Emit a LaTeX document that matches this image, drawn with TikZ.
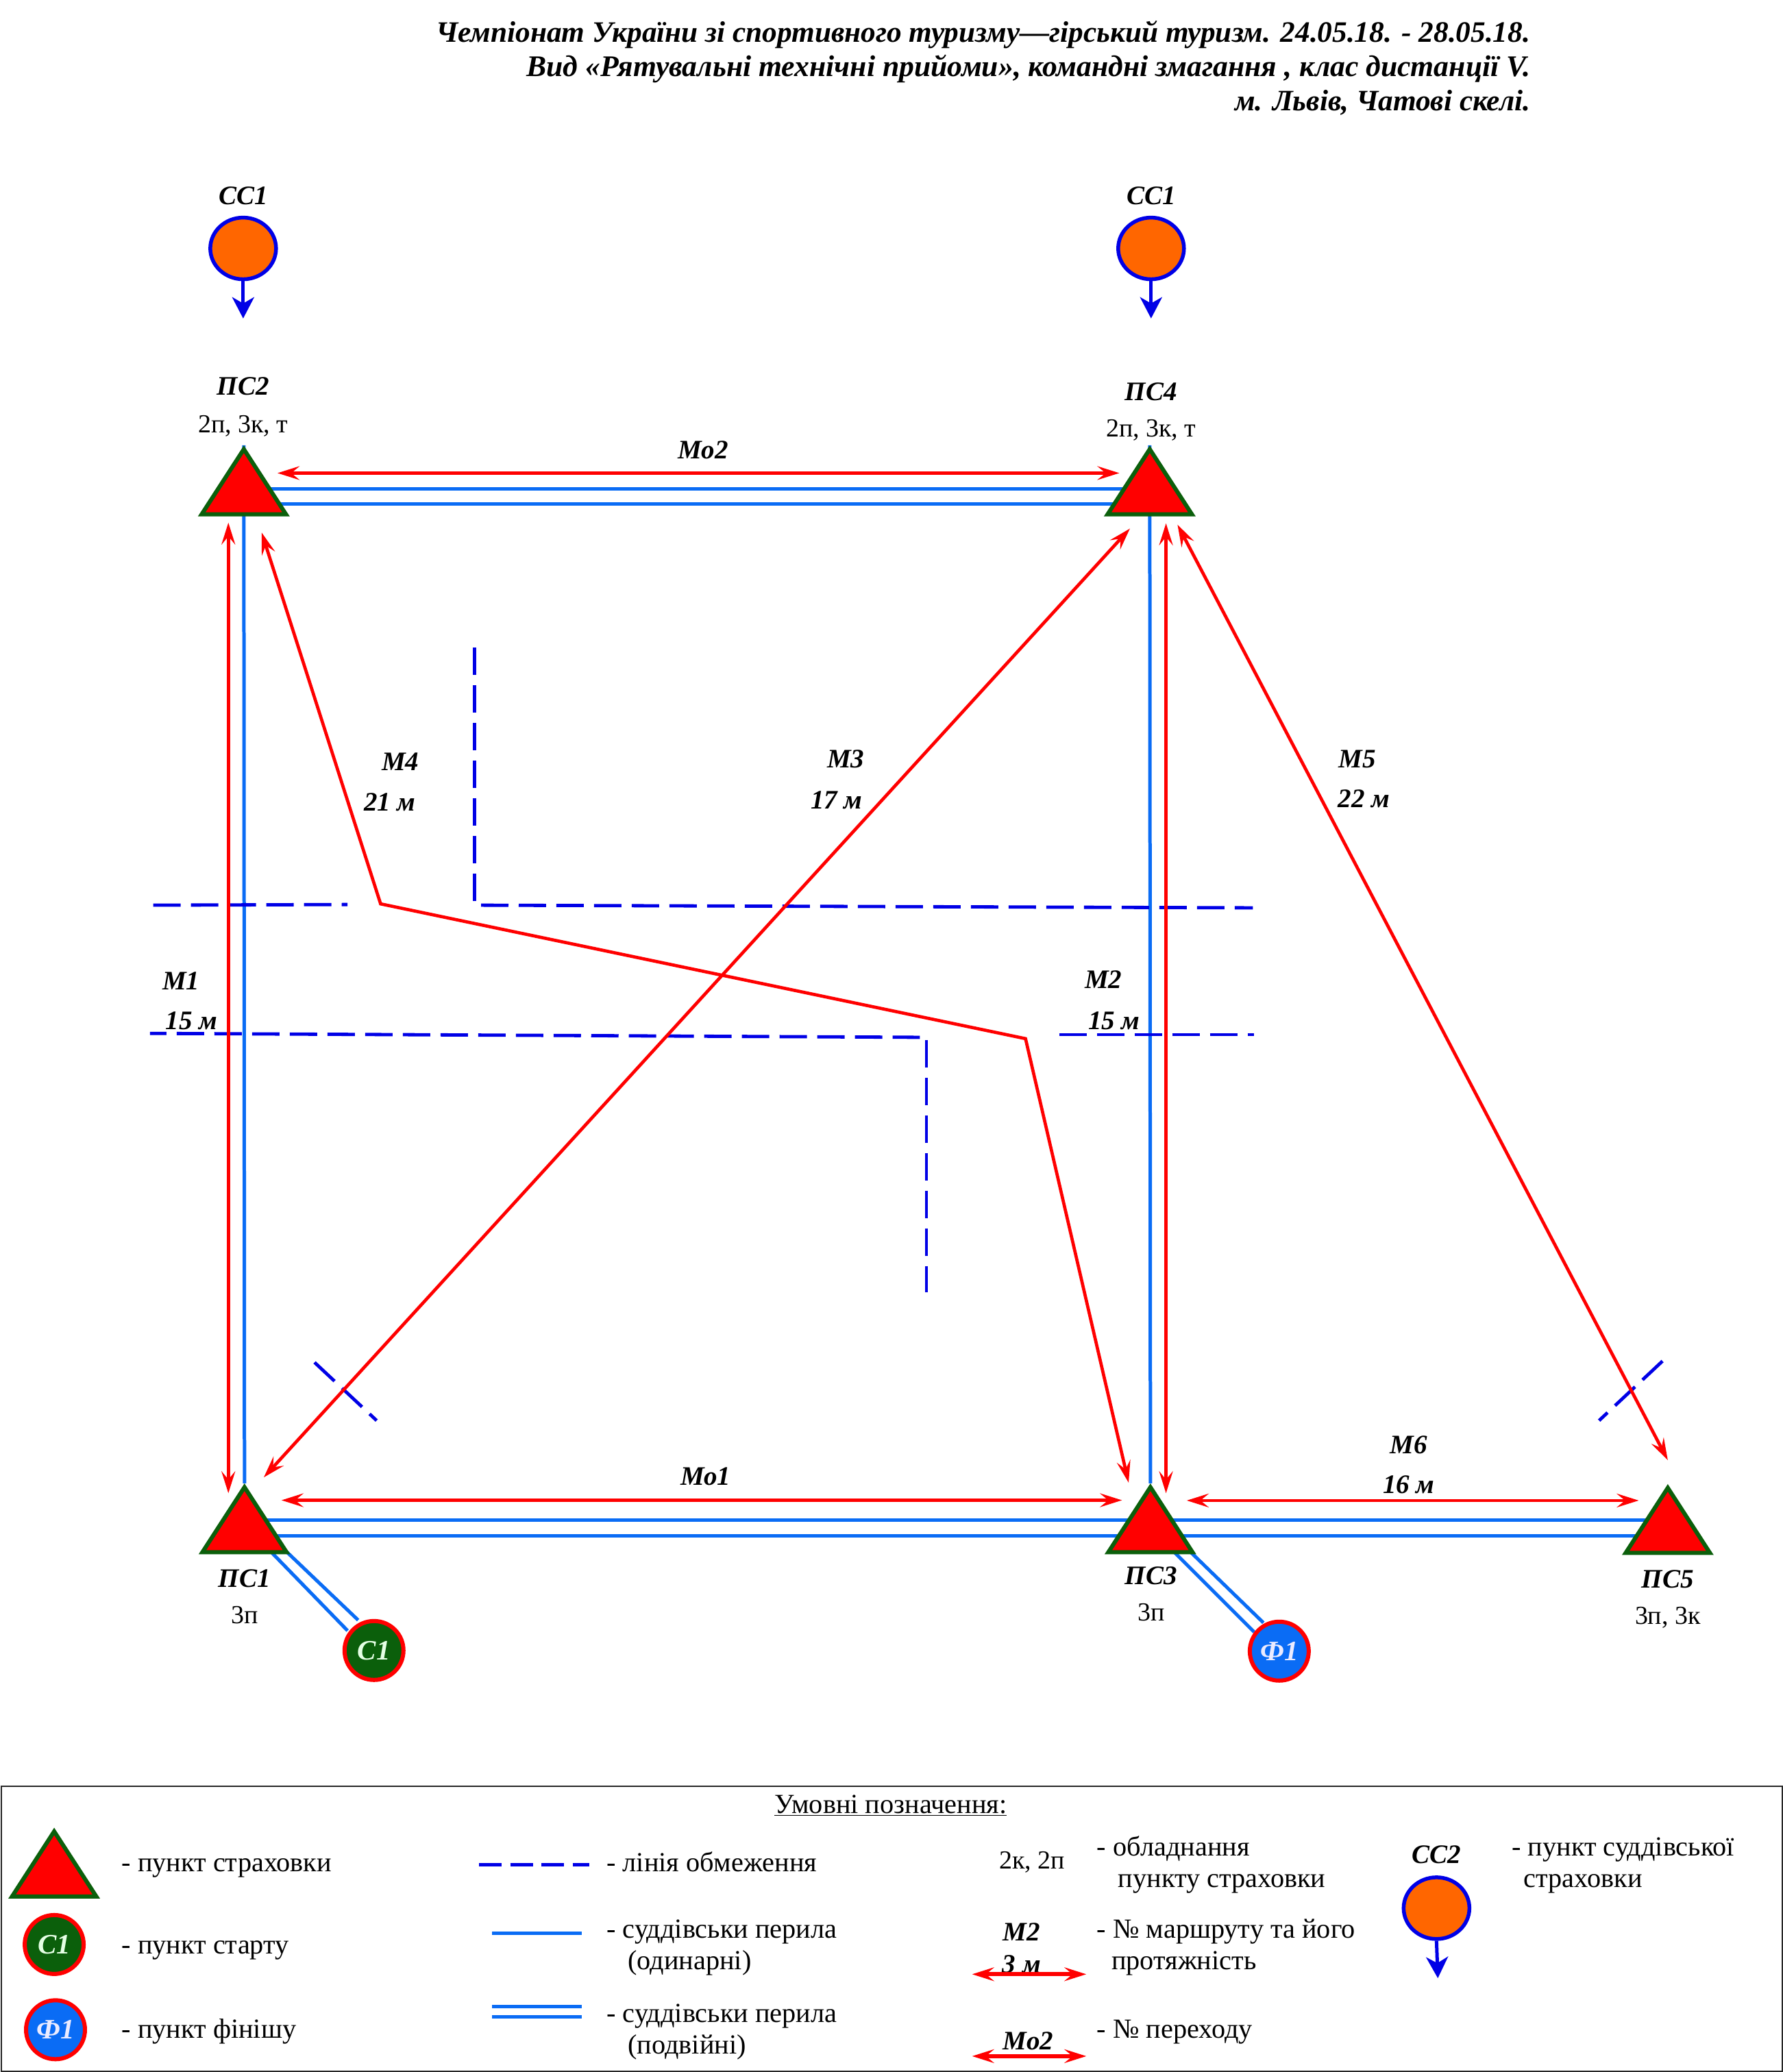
\documentclass[tikz,border=0pt]{standalone}
\usepackage{fontspec}
\setmainfont{Liberation Serif}
\usetikzlibrary{arrows.meta,shapes.geometric,backgrounds}
\definecolor{railblue}{HTML}{0A6CF5}
\definecolor{limitblue}{HTML}{0000E6}
\definecolor{tgreen}{HTML}{0B5F0B}
\definecolor{corange}{HTML}{FF6600}
\definecolor{finblue}{HTML}{0A6CF5}
\newcommand{\fs}{\fontsize{38}{40}\selectfont}
\newcommand{\fl}{\fontsize{40.3}{42}\selectfont}
\newcommand{\bi}{\fontsize{39}{41}\selectfont\bfseries\itshape}
\newcommand{\bc}{\fontsize{41}{43}\selectfont\bfseries\itshape}
\newcommand{\bt}{\fontsize{43.3}{45}\selectfont\bfseries\itshape}
\newcommand{\btw}{\fontsize{43.7}{45}\selectfont\bfseries\itshape}
\tikzset{
  tri/.style={isosceles triangle,isosceles triangle apex angle=64,isosceles triangle stretches,shape border rotate=90,
     minimum width=123pt,minimum height=95pt,draw=tgreen,fill=red,line width=6pt,inner sep=0pt,anchor=apex},
  lab/.style={inner sep=0pt,font=\bi,anchor=mid,yshift=-11pt},
  plain/.style={inner sep=0pt,font=\fs,anchor=mid,yshift=-10pt},
  lft/.style={inner sep=0pt,font=\fl,anchor=mid west,yshift=-10pt},
  ttl/.style={inner sep=0pt,font=\bt,anchor=mid east,yshift=-11pt},
  startpt/.style={circle,draw=red,fill=tgreen,line width=6pt,minimum size=86pt,inner sep=0pt,text=white!90!green,font=\bc},
  finishpt/.style={circle,draw=red,fill=finblue,line width=6pt,minimum size=86pt,inner sep=0pt,text=white!92!blue,font=\bc},
  judgept/.style={ellipse,draw=limitblue,fill=corange,line width=5.5pt,minimum width=96pt,minimum height=90pt,inner sep=0pt},
  rail/.style={draw=railblue,line width=5pt},
  limit/.style={draw=limitblue,line width=4.8pt,dash pattern=on 40pt off 15pt},
  route/.style={draw=red,line width=4.7pt,line join=miter,{Stealth[length=32pt,width=20pt,inset=12pt]}-{Stealth[length=32pt,width=20pt,inset=12pt]}},
  drop/.style={draw=limitblue,line width=5pt,-{Stealth[length=31pt,width=32pt,inset=9pt]}},
}
\begin{document}
\begin{tikzpicture}[x=1.929pt,y=-1.929pt]
\useasboundingbox (0,0) rectangle (1349,1568);
% title
\node[ttl] (t1) at (1158,25) {Чемпіонат України зі спортивного туризму—гірський туризм. 24.05.18. - 28.05.18.};
\node[ttl,font=\btw] (t2) at (1158,51) {Вид «Рятувальні технічні прийоми», командні змагання , клас дистанції V.};
\node[ttl] (t3) at (1158,77) {м. Львів, Чатові скелі.};
% triangles
\node[tri] (ps2) at (184.5,337) {};
\node[tri] (ps4) at (870,337) {};
\node[tri] (ps1) at (185,1122.5) {};
\node[tri] (ps3) at (870.5,1122.5) {};
\node[tri] (ps5) at (1262,1123) {};
% circles
\node[startpt] (c1) at (283,1249) {\raisebox{-3pt}{С1}};
\node[finishpt] (f1) at (968,1249.5) {\raisebox{-3pt}{Ф1}};
\node[judgept] (cc1a) at (184,188) {};
\node[judgept] (cc1b) at (871,188) {};
% free ends
\coordinate (r2a) at (184,370); \coordinate (r4a) at (870,370);
\coordinate (r2b) at (184,381.5); \coordinate (r4b) at (870,381.5);
\coordinate (r1a) at (185,1150.5); \coordinate (r5a) at (1262,1150.5);
\coordinate (r1b) at (185,1162.3); \coordinate (r5b) at (1262,1162.3);
\coordinate (d1a) at (204,1162); \coordinate (d1ae) at (271,1226);
\coordinate (d1b) at (195,1164); \coordinate (d1be) at (263,1234);
\coordinate (d3a) at (888,1162); \coordinate (d3ae) at (956,1228);
\coordinate (d3b) at (878,1164); \coordinate (d3be) at (949,1235);
\begin{scope}[on background layer]
\draw[rail] (r2a) -- (r4a);
\draw[rail] (r2b) -- (r4b);
\draw[rail] (r1a) -- (r5a);
\draw[rail] (r1b) -- (r5b);
\draw[rail] (ps2.apex) -- (ps1.apex);
\draw[rail] (ps4.apex) -- (ps3.apex);
\draw[rail] (d1a) -- (d1ae);
\draw[rail] (d1b) -- (d1be);
\draw[rail] (d3a) -- (d3ae);
\draw[rail] (d3b) -- (d3be);
\end{scope}
% judge arrows
\coordinate (cc1ae) at (184,241); \coordinate (cc1be) at (871,241);
\draw[drop] (cc1a.south) -- (cc1ae);
\draw[drop] (cc1b.south) -- (cc1be);
% limit lines
\coordinate (l1a) at (116,685); \coordinate (l1b) at (263,684.5);
\draw[limit] (l1a) -- (l1b);
\coordinate (l2a) at (359,490); \coordinate (l2b) at (359,682);
\draw[limit] (l2a) -- (l2b);
\coordinate (l2c) at (364,685); \coordinate (l2d) at (948,687);
\draw[limit] (l2c) -- (l2d);
\coordinate (l3a) at (113.5,782); \coordinate (l3b) at (696,785);
\draw[limit,dash phase=16pt] (l3a) -- (l3b);
\coordinate (l3c) at (701,787); \coordinate (l3d) at (701,978);
\draw[limit] (l3c) -- (l3d);
\coordinate (l4a) at (801.5,783); \coordinate (l4b) at (948.7,783);
\draw[limit] (l4a) -- (l4b);
\coordinate (x1a) at (238,1031); \coordinate (x1b) at (285,1075);
\draw[limit] (x1a) -- (x1b);
\coordinate (x2a) at (1258,1030); \coordinate (x2b) at (1210,1075);
\draw[limit] (x2a) -- (x2b);
% routes
\coordinate (mo2a) at (210,358); \coordinate (mo2b) at (847,358);
\draw[route] (mo2a) -- (mo2b);
\coordinate (mo1a) at (213,1135.3); \coordinate (mo1b) at (849,1135.3);
\draw[route] (mo1a) -- (mo1b);
\coordinate (m1a) at (172.8,395.5); \coordinate (m1b) at (172.8,1130);
\draw[route] (m1a) -- (m1b);
\coordinate (m2a) at (882.3,396); \coordinate (m2b) at (882.3,1130);
\draw[route] (m2a) -- (m2b);
\coordinate (m3a) at (199.6,1118); \coordinate (m3b) at (855,400);
\draw[route] (m3a) -- (m3b);
\coordinate (m4a) at (198,403); \coordinate (m4b) at (288,684); \coordinate (m4c) at (776,786); \coordinate (m4d) at (854,1122);
\draw[route] (m4a) -- (m4b) -- (m4c) -- (m4d);
\coordinate (m5a) at (891,397); \coordinate (m5b) at (1262,1105);
\draw[route] (m5a) -- (m5b);
\coordinate (m6a) at (898,1135.5); \coordinate (m6b) at (1240,1135.5);
\draw[route] (m6a) -- (m6b);
% labels
\node[lab] (lcc1a) at (184,148) {СС1};
\node[lab] (lcc1b) at (871,148) {СС1};
\node[lab] (lps2) at (184,292) {ПС2};
\node[plain] (eps2) at (184,321) {2п, 3к, т};
\node[lab] (lps4) at (871,296) {ПС4};
\node[plain] (eps4) at (871,324) {2п, 3к, т};
\node[lab] (lmo2) at (532,340) {Мо2};
\node[lab] (lmo1) at (534,1117) {Мо1};
\node[lab] (lm1) at (137,742) {М1};
\node[lab] (dm1) at (145,772) {15 м};
\node[lab] (lm2) at (835,741) {М2};
\node[lab] (dm2) at (843,772) {15 м};
\node[lab] (lm3) at (640,574) {М3};
\node[lab] (dm3) at (633,605) {17 м};
\node[lab] (lm4) at (303,576) {М4};
\node[lab] (dm4) at (295,607) {21 м};
\node[lab] (lm5) at (1027,574) {М5};
\node[lab] (dm5) at (1032,604) {22 м};
\node[lab] (lm6) at (1066,1093) {М6};
\node[lab] (dm6) at (1066,1123) {16 м};
\node[lab] (lps1) at (185,1194) {ПС1};
\node[plain] (eps1) at (185,1222) {3п};
\node[lab] (lps3) at (871,1192) {ПС3};
\node[plain] (eps3) at (871,1220) {3п};
\node[lab] (lps5) at (1262,1195) {ПС5};
\node[plain] (eps5) at (1262,1223) {3п, 3к};
% legend
\node[draw=black!85,line width=2.5pt,minimum width=2600pt,minimum height=417pt,inner sep=0pt,anchor=north west] (lg) at (0.5,1351) {};
\node[inner sep=0pt,font=\fl,anchor=mid,yshift=-10pt] (lgt) at (674,1366) {\underline{Умовні позначення:}};
\node[tri] (ltri) at (41,1383) {};
\node[startpt] (lc1) at (41,1471.5) {\raisebox{-3pt}{С1}};
\node[finishpt] (lf1) at (42,1536) {\raisebox{-3pt}{Ф1}};
\node[lft] (a1) at (92,1410) {- пункт страховки};
\node[lft] (a2) at (92,1472) {- пункт старту};
\node[lft] (a3) at (92,1536) {- пункт фінішу};
\coordinate (ld1) at (362.5,1411); \coordinate (ld2) at (446,1411);
\draw[limit,dash pattern=on 33pt off 12.5pt] (ld1) -- (ld2);
\coordinate (ls1) at (372.5,1463); \coordinate (ls2) at (440,1463);
\draw[rail] (ls1) -- (ls2);
\coordinate (lw1) at (372.5,1518.5); \coordinate (lw2) at (440,1518.5);
\coordinate (lw3) at (372.5,1526); \coordinate (lw4) at (440,1526);
\draw[rail] (lw1) -- (lw2);
\draw[rail] (lw3) -- (lw4);
\node[lft] (b1) at (459,1410) {- лінія обмеження};
\node[lft] (b2) at (459,1460) {- суддівськи перила};
\node[lft] (b3) at (475,1484) {(одинарні)};
\node[lft] (b4) at (459,1524) {- суддівськи перила};
\node[lft] (b5) at (475,1548) {(подвійні)};
\node[plain] (c0) at (781,1408) {2к, 2п};
\node[lft] (c2) at (830,1398) {- обладнання};
\node[lft] (c3) at (846,1422) {пункту страховки};
\node[lab] (lgm2) at (773,1462) {М2};
\node[lab] (lgd2) at (773,1486) {3 м};
\coordinate (la1) at (735.6,1494); \coordinate (la2) at (822,1494);
\draw[route,line width=6pt] (la1) -- (la2);
\node[lft] (c4) at (830,1460) {- № маршруту та його};
\node[lft] (c5) at (841,1484) {протяжність};
\node[lab] (lgmo) at (778,1544) {Мо2};
\coordinate (la3) at (735.6,1556); \coordinate (la4) at (822,1556);
\draw[route,line width=6pt] (la3) -- (la4);
\node[lft] (c6) at (830,1536) {- № переходу};
\node[lab] (lcc2) at (1087,1403) {СС2};
\node[judgept] (lcc) at (1087,1444) {};
\coordinate (lcce) at (1088,1497);
\draw[drop] (lcc.south) -- (lcce);
\node[lft] (d1) at (1144,1398) {- пункт суддівської};
\node[lft] (d2) at (1153,1422) {страховки};
\end{tikzpicture}
\end{document}
